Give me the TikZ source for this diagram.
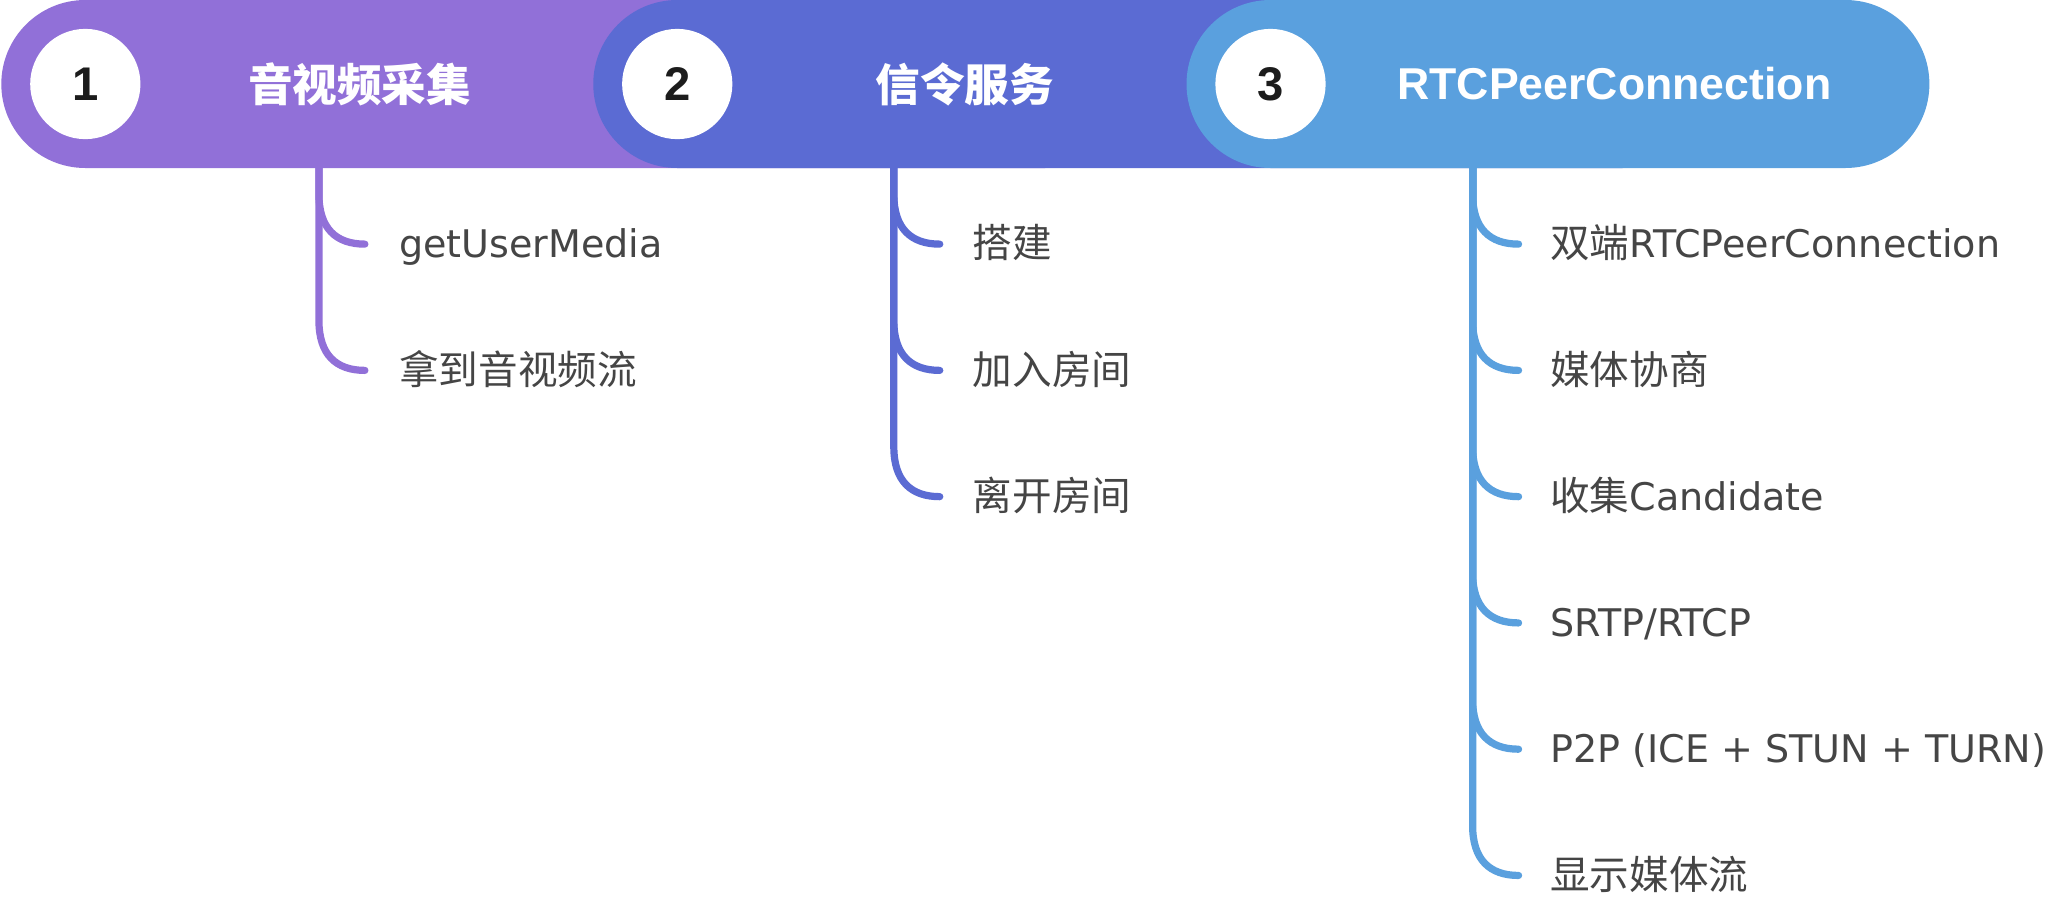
\documentclass[tikz,border=0pt]{standalone}
\usepackage{fontspec}
\setmainfont{DejaVu Sans}
\newfontfamily\cjk{Noto Sans CJK SC}[Scale=1.04]
\newfontfamily\titlefont{Liberation Sans}
\usetikzlibrary{calc}
\definecolor{cone}{HTML}{9170D8}
\definecolor{ctwo}{HTML}{5B6BD3}
\definecolor{cthree}{HTML}{5AA0DE}
\definecolor{txt}{HTML}{454545}
\definecolor{num}{HTML}{1C1C1C}
\tikzset{
  pill/.style={rounded corners=64pt},
  disc/.style={circle, fill=white, minimum size=84pt, inner sep=0pt,
    font=\titlefont\bfseries\fontsize{36}{40}\selectfont, text=num},
  ttl/.style={text=white, inner sep=0pt, anchor=center},
  item/.style={text=txt, inner sep=0pt, anchor=base west,
    font=\fontsize{29}{34}\selectfont},
  branch/.style={line width=5.5pt, line cap=round},
}
\newcommand{\brk}[3]{% color, top coordinate, end coordinate
  \draw[branch,#1] (#2) -- ($(#3)+(-35,-38)$)
    .. controls ($(#3)+(-35,-12)$) and ($(#3)+(-22,0)$) .. (#3);}
\begin{document}
\begin{tikzpicture}[x=1pt,y=-1pt]
\useasboundingbox (0,0) rectangle (1568,688.8);
\fill[white] (0,0) rectangle (1568,688.8);
% pills
\fill[cone,pill] (1,0) rectangle (860,128);
\fill[ctwo,pill] (452,0) rectangle (1300,128);
\fill[cthree,pill] (904,0) rectangle (1470,128);
% discs and numbers
\node[disc] (n1) at (65,64) {1};
\node[disc] (n2) at (516,64) {2};
\node[disc] (n3) at (968,64) {3};
% titles
\node[ttl, font=\cjk\bfseries\fontsize{32.7}{36}\selectfont] (t1) at (274,64) {音视频采集};
\node[ttl, font=\cjk\bfseries\fontsize{32.7}{36}\selectfont] (t2) at (735,64) {信令服务};
\node[ttl, font=\titlefont\bfseries\fontsize{34}{38}\selectfont] (t3) at (1230,64) {RTCPeerConnection};
% column tops
\coordinate (c1) at (243,128);
\coordinate (c2) at (681,128);
\coordinate (c3) at (1122,128);
% branch ends
\coordinate (e11) at (278,186);
\coordinate (e12) at (278,282.2);
\coordinate (e21) at (716,186);
\coordinate (e22) at (716,282.2);
\coordinate (e23) at (716,378.4);
\coordinate (e31) at (1157,186);
\coordinate (e32) at (1157,282.2);
\coordinate (e33) at (1157,378.4);
\coordinate (e34) at (1157,474.6);
\coordinate (e35) at (1157,570.8);
\coordinate (e36) at (1157,667);
% items
\node[item] (i11) at ($(e11)+(26,10.5)$) {getUserMedia};
\node[item] (i12) at ($(e12)+(26,10.5)$) {\cjk 拿到音视频流};
\node[item] (i21) at ($(e21)+(25,10.5)$) {\cjk 搭建};
\node[item] (i22) at ($(e22)+(25,10.5)$) {\cjk 加入房间};
\node[item] (i23) at ($(e23)+(25,10.5)$) {\cjk 离开房间};
\node[item] (i31) at ($(e31)+(24,10.5)$) {{\cjk 双端}RTCPeerConnection};
\node[item] (i32) at ($(e32)+(24,10.5)$) {\cjk 媒体协商};
\node[item] (i33) at ($(e33)+(24,10.5)$) {{\cjk 收集}Candidate};
\node[item] (i34) at ($(e34)+(24,10.5)$) {SRTP/RTCP};
\node[item] (i35) at ($(e35)+(24,10.5)$) {P2P (ICE + STUN + TURN)};
\node[item] (i36) at ($(e36)+(24,10.5)$) {\cjk 显示媒体流};
% branches
\brk{cone}{c1}{e11}
\brk{cone}{c1}{e12}
\brk{ctwo}{c2}{e21}
\brk{ctwo}{c2}{e22}
\brk{ctwo}{c2}{e23}
\brk{cthree}{c3}{e31}
\brk{cthree}{c3}{e32}
\brk{cthree}{c3}{e33}
\brk{cthree}{c3}{e34}
\brk{cthree}{c3}{e35}
\brk{cthree}{c3}{e36}
\end{tikzpicture}
\end{document}
